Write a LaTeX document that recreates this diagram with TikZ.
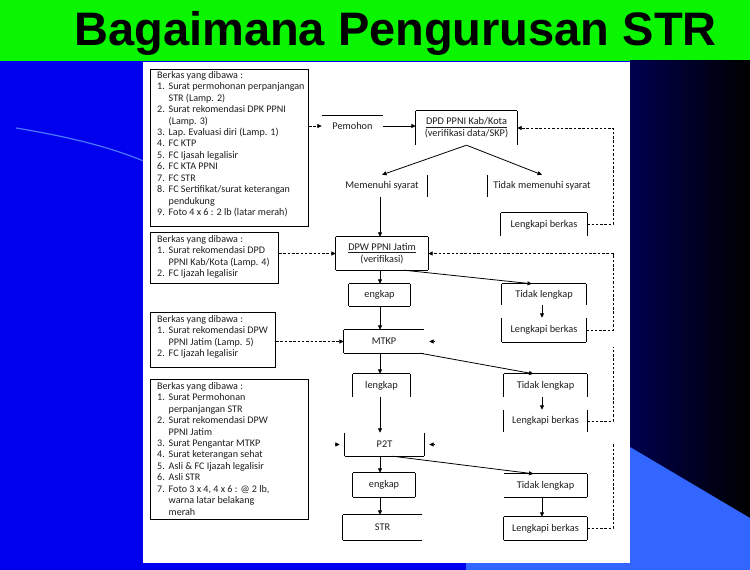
\documentclass[tikz,border=0pt]{standalone}
\usepackage{fontspec}
\setmainfont{Carlito}
\newfontfamily\titlefont{Liberation Sans}
\usepackage{tikz}
\usetikzlibrary{arrows.meta,calc}
\definecolor{titlegreen}{HTML}{0AF500}
\definecolor{slideblue}{HTML}{0000EE}
\definecolor{slidenavy}{HTML}{00004E}
\definecolor{slidesky}{HTML}{3366FF}
\definecolor{swoosh}{HTML}{4A78FF}
\definecolor{inktext}{HTML}{1E1E1E}

\newcommand{\itemno}[2]{\makebox[11.5pt][l]{#1}#2}
\newcommand{\itemgo}[1]{\hspace*{11.5pt}#1}

\begin{document}
\begin{tikzpicture}[x=1pt,y=-1pt,
    flow/.style={inner sep=0pt,font=\fontsize{10.3}{12}\selectfont,text=inktext,align=center},
    filebox/.style={draw=black,line width=1.1pt,anchor=north west,inner sep=0pt},
    filelist/.style={anchor=north west,inner sep=0pt,align=left,font=\fontsize{10.1}{11.45}\selectfont,text=inktext},
    boxline/.style={line width=0.9pt,black},
    arr/.style={line width=0.8pt,-{Triangle[length=4.5pt,width=4pt]}},
    dashline/.style={line width=0.8pt,dash pattern=on 2.5pt off 1.8pt}]
  \useasboundingbox (0,0) rectangle (750,570);
  % slide background
  \fill[slideblue] (0,60) rectangle (750,570);
  \fill[titlegreen] (0,0) rectangle (750,60.5);
  \shade[left color=slidenavy,right color=black] (630,60.5) rectangle (750,570);
  \fill[slidesky] (630,447) -- (750,518) -- (750,570) -- (466,570) -- (466,563) -- (630,563) -- cycle;
  \draw[swoosh,line width=1.2pt] (16,128) .. controls (70,137) and (110,147) .. (146,162);
  \fill[white] (143,62) rectangle (630,563);
  \node[font=\titlefont\bfseries\fontsize{47}{52}\selectfont,anchor=base] (title) at (395.5,45) {Bagaimana Pengurusan STR};

  % berkas yang dibawa
  \node[filebox,minimum width=158pt,minimum height=157pt] (files1) at (150,69) {};
  \node[filebox,minimum width=128pt,minimum height=51pt] (files2) at (150,232) {};
  \node[filebox,minimum width=125pt,minimum height=55pt] (files3) at (150,312) {};
  \node[filebox,minimum width=158pt,minimum height=140pt] (files4) at (150,379) {};
  \node[filelist] (list1) at ([xshift=7pt,yshift=-2pt]files1.north west) {Berkas yang dibawa :\\
    \itemno{1.}{Surat permohonan perpanjangan}\\
    \itemgo{STR (Lamp. 2)}\\
    \itemno{2.}{Surat rekomendasi DPK PPNI}\\
    \itemgo{(Lamp. 3)}\\
    \itemno{3.}{Lap. Evaluasi diri (Lamp. 1)}\\
    \itemno{4.}{FC KTP}\\
    \itemno{5.}{FC Ijasah legalisir}\\
    \itemno{6.}{FC KTA PPNI}\\
    \itemno{7.}{FC STR}\\
    \itemno{8.}{FC Sertifikat/surat keterangan}\\
    \itemgo{pendukung}\\
    \itemno{9.}{Foto 4 x 6 : 2 lb (latar merah)}};
  \node[filelist] (list2) at ([xshift=7pt,yshift=-3pt]files2.north west) {Berkas yang dibawa :\\
    \itemno{1.}{Surat rekomendasi DPD}\\
    \itemgo{PPNI Kab/Kota (Lamp. 4)}\\
    \itemno{2.}{FC Ijazah legalisir}};
  \node[filelist] (list3) at ([xshift=7pt,yshift=-3pt]files3.north west) {Berkas yang dibawa :\\
    \itemno{1.}{Surat rekomendasi DPW}\\
    \itemgo{PPNI Jatim (Lamp. 5)}\\
    \itemno{2.}{FC Ijazah legalisir}};
  \node[filelist] (list4) at ([xshift=7pt,yshift=-3pt]files4.north west) {Berkas yang dibawa :\\
    \itemno{1.}{Surat Permohonan}\\
    \itemgo{perpanjangan STR}\\
    \itemno{2.}{Surat rekomendasi DPW}\\
    \itemgo{PPNI Jatim}\\
    \itemno{3.}{Surat Pengantar MTKP}\\
    \itemno{4.}{Surat keterangan sehat}\\
    \itemno{5.}{Asli \& FC Ijazah legalisir}\\
    \itemno{6.}{Asli STR}\\
    \itemno{7.}{Foto 3 x 4, 4 x 6 : @ 2 lb,}\\
    \itemgo{warna latar belakang}\\
    \itemgo{merah}};

  % alur
  \node[flow,minimum width=61pt,minimum height=20pt] (pem) at (352.5,126) {Pemohon};
  \node[flow,minimum width=101pt,minimum height=34pt] (dpd) at (466.5,128) {\underline{DPD PPNI Kab/Kota}\\(verifikasi data/SKP)};
  \node[flow,minimum width=90pt,minimum height=22pt] (mem) at (382,186) {Memenuhi syarat};
  \node[flow,minimum width=108pt,minimum height=22pt] (tms) at (542,186) {Tidak memenuhi syarat};
  \node[flow,minimum width=86pt,minimum height=23pt] (lb1) at (544,224.5) {Lengkapi berkas};
  \node[flow,minimum width=92pt,minimum height=33pt] (dpw) at (382,253.5) {\underline{DPW PPNI Jatim}\\(verifikasi)};
  \node[flow,minimum width=61pt,minimum height=22pt] (lk1) at (379.5,295) {engkap};
  \node[flow,minimum width=84pt,minimum height=21pt] (tl1) at (544,294.5) {Tidak lengkap};
  \node[flow,minimum width=84pt,minimum height=24pt] (lb2) at (544,330) {Lengkapi berkas};
  \node[flow,minimum width=80pt,minimum height=23pt] (mtkp) at (384,341.5) {MTKP};
  \node[flow,minimum width=57pt,minimum height=23pt] (lk2) at (381.5,385.5) {lengkap};
  \node[flow,minimum width=83pt,minimum height=23pt] (tl2) at (545.5,385.5) {Tidak lengkap};
  \node[flow,minimum width=83pt,minimum height=22pt] (lb3) at (545.5,421) {Lengkapi berkas};
  \node[flow,minimum width=79pt,minimum height=23pt] (p2t) at (384.5,444.5) {P2T};
  \node[flow,minimum width=62pt,minimum height=24pt] (lk3) at (384,485) {engkap};
  \node[flow,minimum width=83pt,minimum height=23pt] (tl3) at (545.5,485.5) {Tidak lengkap};
  \node[flow,minimum width=79pt,minimum height=25pt] (str) at (382.5,527.5) {STR};
  \node[flow,minimum width=83pt,minimum height=23pt] (lb4) at (545.5,528.5) {Lengkapi berkas};

  % sisi kotak yang tampak
  \foreach \n in {pem,dpd,lb1,dpw,lk1,tl1,mtkp,lk2,tl2,lk3,tl3,str,lb4}
    \draw[boxline] (\n.north west) -- (\n.north east);
  \foreach \n in {dpw,lk1,lb2,mtkp,p2t,lk3,tl3,str,lb4}
    \draw[boxline] (\n.south west) -- (\n.south east);
  \foreach \n in {dpd,tms,lb1,dpw,lk1,tl1,lb2,mtkp,lk2,tl2,lb3,p2t,lk3,str,lb4}
    \draw[boxline] (\n.north west) -- (\n.south west);
  \foreach \n in {dpd,mem,lb1,dpw,lk1,tl1,lb2,lk2,tl2,lb3,p2t,lk3,tl3,lb4}
    \draw[boxline] (\n.north east) -- (\n.south east);

  \coordinate (spine) at (380,0);
  \coordinate (rspine) at (542,0);
  \coordinate (loopx) at (613,0);
  \coordinate (gap3) at (613,347);
  \coordinate (gap4) at (613,443);

  \draw[arr] (pem.east) -- (pem.east -| dpd.west);
  \draw[arr] (dpd.south) -- (mem.north);
  \draw[arr] (dpd.south) -- (tms.north);
  \draw[arr] (spine |- mem.south) -- (spine |- dpw.north);
  \draw[arr] (spine |- dpw.south) -- (spine |- lk1.north);
  \draw[arr] ([xshift=22pt]dpw.south) -- ([xshift=-12pt]tl1.north);
  \draw[arr] (rspine |- tl1.south) -- (rspine |- lb2.north);
  \draw[arr] (spine |- lk1.south) -- (spine |- mtkp.north);
  \draw[arr] (spine |- mtkp.south) -- (spine |- lk2.north);
  \draw[arr] ([xshift=36pt]mtkp.south) -- ([xshift=-12pt]tl2.north);
  \draw[arr] (rspine |- tl2.south) -- (rspine |- lb3.north);
  \draw[arr] (spine |- lk2.south) -- (spine |- p2t.north);
  \draw[arr] (spine |- p2t.south) -- (spine |- lk3.north);
  \draw[arr] ([xshift=8pt]p2t.south) -- ([xshift=-12pt]tl3.north);
  \draw[arr] (spine |- lk3.south) -- (spine |- str.north);
  \draw[arr] (rspine |- tl3.south) -- (rspine |- lb4.north);

  % berkas masuk dan kembali
  \draw[dashline,arr] (files1.east |- pem.west) -- (pem.west);
  \draw[dashline,arr] (files2.east |- dpw.west) -- (dpw.west);
  \draw[dashline,arr] (files3.east |- mtkp.west) -- (mtkp.west);
  \draw[dashline,arr] (lb1.east) -- (lb1.east -| loopx) |- (dpd.east);
  \draw[dashline,arr] (lb2.east) -- (lb2.east -| loopx) |- (dpw.east);
  \draw[dashline] (lb3.east) -| (gap3);
  \draw[dashline] (lb4.east) -| (gap4);
  \draw[arr] ([xshift=9.5pt]mtkp.east) -- ([xshift=5pt]mtkp.east);
  \draw[arr] ([xshift=9.5pt]p2t.east) -- ([xshift=5pt]p2t.east);
  \draw[arr] ([xshift=-9.5pt]p2t.west) -- ([xshift=-5pt]p2t.west);
\end{tikzpicture}
\end{document}
